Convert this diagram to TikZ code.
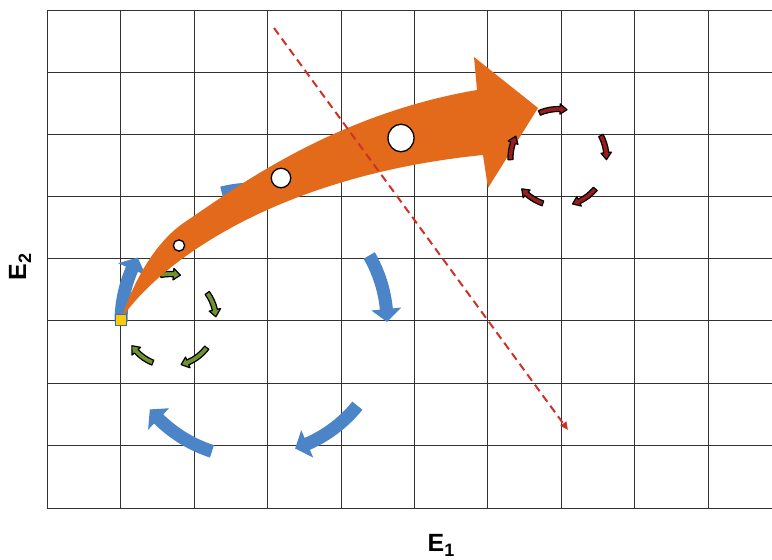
\documentclass[tikz,border=0pt]{standalone}
\usepackage{fontspec}
\setmainfont{Liberation Sans}
\usetikzlibrary{calc,arrows.meta,shapes.geometric}
\definecolor{gridc}{RGB}{50,50,50}
\definecolor{orangeA}{RGB}{226,106,26}
\definecolor{blueA}{RGB}{76,132,200}
\definecolor{greenA}{RGB}{112,146,48}
\definecolor{redA}{RGB}{152,30,30}
\definecolor{dashc}{RGB}{205,50,40}
\definecolor{yellowA}{RGB}{255,202,0}
\definecolor{sqedge}{RGB}{60,110,180}

% style, center, radius, start angle, tip angle, half width, head half width, head length
\newcommand\cycarr[8]{%
  \pgfmathsetmacro\cyD{((#5)>(#4))*2-1}%
  \pgfmathsetmacro\cyB{(#5)-\cyD*deg((#8)/(#3))}%
  \pgfmathsetmacro\cyRo{(#3)+(#6)}%
  \pgfmathsetmacro\cyRi{(#3)-(#6)}%
  \pgfmathsetmacro\cyHo{(#3)+(#7)}%
  \pgfmathsetmacro\cyHi{(#3)-(#7)}%
  \path[#1] ($(#2)+(#4:\cyRo)$) arc[start angle=#4, end angle=\cyB, radius=\cyRo]
    -- ($(#2)+(\cyB:\cyHo)$) -- ($(#2)+(#5:#3)$) -- ($(#2)+(\cyB:\cyHi)$)
    -- ($(#2)+(\cyB:\cyRi)$) arc[start angle=\cyB, end angle=#4, radius=\cyRi] -- cycle;%
}
\newcommand\lowsub[1]{\raisebox{-5bp}{\fontsize{18}{18}\selectfont #1}}

\tikzset{
  gridline/.style={draw=gridc, line width=1.4bp},
  bluearr/.style={fill=blueA},
  greenarr/.style={fill=greenA, draw=black, line width=1.2bp, line join=round},
  redarr/.style={fill=redA, draw=black, line width=1.2bp, line join=round},
  dot/.style={circle, draw=black, fill=white, line width=1.3bp, inner sep=0pt},
  axislabel/.style={font=\fontsize{25}{25}\selectfont\bfseries, inner sep=0pt},
}

\begin{document}
\begin{tikzpicture}[x=1bp, y=-1bp]
\useasboundingbox (0,0) rectangle (772,560);
\fill[white] (0,0) rectangle (772,560);

% grid
\foreach \xx in {47,120,194,267,341,414,487,561,634,708}
  \draw[gridline] (\xx+0.5,10) -- (\xx+0.5,509);
\foreach \yy in {10,72,134,196,258,320,383,445,508}
  \draw[gridline] (47,\yy+0.5) -- (772,\yy+0.5);

% centres of the cycles
\coordinate (bc) at (254,322);
\coordinate (gc) at (170,320);
\coordinate (rc) at (558.5,158);

% blue cycle
\cycarr{bluearr}{bc}{133}{-30}{0}{6.5}{15}{13}
\cycarr{bluearr}{bc}{133}{39}{72}{6.5}{15}{13}
\cycarr{bluearr}{bc}{136}{108}{140}{6.5}{15}{13}
\cycarr{bluearr}{bc}{133}{180}{209}{6.5}{15}{13}
\cycarr{bluearr}{bc}{133}{256}{283}{6.5}{15}{13}

% green cycle
\cycarr{greenarr}{gc}{46}{258}{283}{2.6}{5.8}{7}
\cycarr{greenarr}{gc}{46}{-36}{-4}{2.6}{5.8}{7}
\cycarr{greenarr}{gc}{46}{37}{76}{2.6}{5.8}{7}
\cycarr{greenarr}{gc}{46}{112}{146}{2.6}{5.8}{7}

% big orange arrow
\coordinate (tail) at (121,319);
\coordinate (tip) at (538,108);
\fill[orangeA] (tail) .. controls (136,275) and (158,240) .. (185,222)
  .. controls (230,192) and (330,115) .. (477,90) -- (474,57) -- (tip)
  -- (488,188) -- (483,155) .. controls (283,175) and (163,258) .. (tail) -- cycle;

% white dots on the arrow
\node[dot, minimum size=11.3bp] (d1) at (179,245.5) {};
\node[dot, minimum size=19.5bp] (d2) at (281,178) {};
\node[dot, ellipse, minimum width=26bp, minimum height=27.5bp] (d3) at (401,138) {};

% red cycle
\cycarr{redarr}{rc}{49}{247}{280}{2.5}{5.2}{7}
\cycarr{redarr}{rc}{48}{-28}{2}{2.5}{5.2}{7}
\cycarr{redarr}{rc}{48}{40}{73}{2.5}{5.2}{7}
\cycarr{redarr}{rc}{48}{109}{140}{2.5}{5.2}{7}
\cycarr{redarr}{rc}{48}{178}{207}{2.5}{5.2}{7}

% dashed red line
\coordinate (ds) at (274,28);
\coordinate (de) at (568,430);
\draw[dashc, line width=2bp, dash pattern=on 8bp off 5bp, -{Triangle[length=8bp,width=7bp]}] (ds) -- (de);

% start marker
\node[draw=sqedge, fill=yellowA, line width=1.3bp, minimum size=11.5bp, inner sep=0pt] (start) at (121,320) {};

% axis labels
\node[axislabel] (e1) at (441,545) {E\lowsub{1}};
\node[axislabel, rotate=90] (e2) at (20,267) {E\lowsub{2}};
\end{tikzpicture}
\end{document}
